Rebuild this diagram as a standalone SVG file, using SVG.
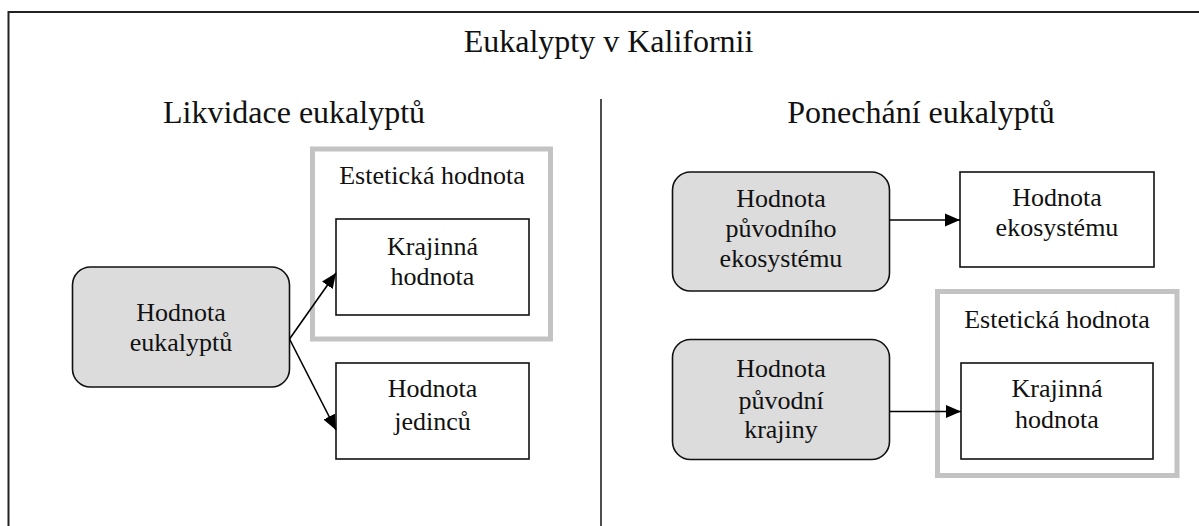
<svg xmlns="http://www.w3.org/2000/svg" width="1199" height="526" viewBox="0 0 1199 526">
<style>
text{font-family:'Liberation Serif','Tinos','Times New Roman','DejaVu Serif',serif;fill:#111;text-anchor:middle}
.big{font-size:32px}
.t{font-size:26px}
.box{fill:#fff;stroke:#111;stroke-width:1.6}
.rbox{fill:#dcdcdc;stroke:#111;stroke-width:1.6}
.grp{fill:none;stroke:#c3c3c3;stroke-width:5}
.con{stroke:#000;stroke-width:1.6;fill:none;marker-end:url(#ah)}
</style>
<defs>
<marker id="ah" markerUnits="userSpaceOnUse" markerWidth="16" markerHeight="14" refX="15" refY="7" orient="auto">
<path d="M0,0.5 L15,7 L0,13.5 Z" fill="#000"/>
</marker>
</defs>
<rect width="1199" height="526" fill="#fff"/>
<g id="frame">
<path d="M8.5,526 V12 H1199" fill="none" stroke="#222" stroke-width="2"/>
<line x1="601" y1="99" x2="601" y2="526" stroke="#222" stroke-width="1.6"/>
<text class="big" x="608.5" y="52" font-family="Liberation Serif, serif">Eukalypty v Kalifornii</text>
<text class="big" x="294" y="123" font-family="Liberation Serif, serif">Likvidace eukalyptů</text>
<text class="big" x="921" y="123" font-family="Liberation Serif, serif">Ponechání eukalyptů</text>
</g>
<g id="est-left">
<rect class="grp" x="312.5" y="149" width="238" height="190"/>
<text class="t" x="432" y="184">Estetická hodnota</text>
</g>
<g id="kraj-left">
<rect class="box" x="336" y="219" width="193" height="96"/>
<text class="t" x="432.5" y="255">Krajinná</text>
<text class="t" x="432.5" y="285">hodnota</text>
</g>
<g id="hod-euk">
<rect class="rbox" x="72.5" y="267" width="217" height="120" rx="18"/>
<text class="t" x="181" y="321">Hodnota</text>
<text class="t" x="181" y="351">eukalyptů</text>
</g>
<g id="hod-jed">
<rect class="box" x="336" y="363" width="193" height="96"/>
<text class="t" x="432.5" y="397">Hodnota</text>
<text class="t" x="432.5" y="430">jedinců</text>
</g>
<g id="hod-pek">
<rect class="rbox" x="672.5" y="172" width="217" height="119" rx="18"/>
<text class="t" x="781" y="207">Hodnota</text>
<text class="t" x="781" y="237">původního</text>
<text class="t" x="781" y="267">ekosystému</text>
</g>
<g id="hod-eko">
<rect class="box" x="960" y="172" width="194" height="95"/>
<text class="t" x="1057" y="206">Hodnota</text>
<text class="t" x="1057" y="236">ekosystému</text>
</g>
<g id="est-right">
<rect class="grp" x="937.5" y="291.5" width="239.5" height="184"/>
<text class="t" x="1057" y="328">Estetická hodnota</text>
</g>
<g id="kraj-right">
<rect class="box" x="961" y="363" width="192" height="96"/>
<text class="t" x="1057" y="397">Krajinná</text>
<text class="t" x="1057" y="428">hodnota</text>
</g>
<g id="hod-pkr">
<rect class="rbox" x="672.5" y="339.5" width="217" height="120" rx="18"/>
<text class="t" x="781" y="377">Hodnota</text>
<text class="t" x="781" y="409">původní</text>
<text class="t" x="781" y="438">krajiny</text>
</g>
<g id="connectors">
<line class="con" x1="289.5" y1="339" x2="336" y2="273"/>
<line class="con" x1="289.5" y1="339" x2="336" y2="430"/>
<line class="con" x1="889.5" y1="220" x2="960" y2="220"/>
<line class="con" x1="889.5" y1="411.5" x2="961" y2="411.5"/>
</g>
</svg>
